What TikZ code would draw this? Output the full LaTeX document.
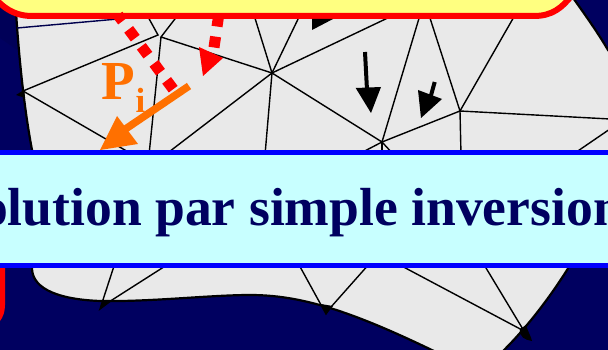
\documentclass[tikz,border=0pt]{standalone}
\usepackage{fontspec}
\setmainfont{Liberation Serif}
\definecolor{navybg}{HTML}{000060}
\definecolor{navydk}{HTML}{000058}
\definecolor{meshgrey}{HTML}{E9E9E9}
\definecolor{boxyellow}{HTML}{FFFF80}
\definecolor{boxcyan}{HTML}{C8FFFF}
\definecolor{orangeP}{HTML}{FF7000}
\tikzset{
  x=1pt,y=-1pt,
  mesh/.style={draw=black,line width=1.4pt},
  outline/.style={draw=black,line width=2.2pt},
  hd/.style={fill=#1,draw=none},
  reddash/.style={draw=red,line width=11pt,dash pattern=on 11pt off 10.2pt},
}
\begin{document}
\begin{tikzpicture}
\useasboundingbox (0,0) rectangle (608,350);
\clip (0,0) rectangle (608,350);
\fill[navybg] (0,0) rectangle (608,350);
\fill[navydk] (0,0) -- (20,0) -- (17,50) -- (0,38) -- cycle;
% blob
\path[fill=meshgrey,outline] (15,-5) .. controls (18,50) and (24,110) .. (33,155)
  -- (32,268) .. controls (32,285) and (50,299) .. (100,301)
  .. controls (150,302) and (210,295) .. (250,295)
  .. controls (300,295) and (350,310) .. (440,354)
  -- (500,354) .. controls (530,325) and (555,290) .. (572,262)
  -- (640,150) -- (640,80) -- (608,50) .. controls (598,33) and (586,16) .. (571,-5) -- cycle;
\coordinate (A) at (158,35);
\coordinate (B) at (161,37);
\coordinate (C) at (272,73);
\coordinate (D) at (23,91);
\coordinate (E) at (382,142);
\coordinate (F) at (460,111);
% mesh
\draw[mesh,draw=navybg!80!black] (17,28) -- (118,19);
\draw[mesh] (147,15) -- (A) -- (D) -- (130,153);
\draw[mesh] (178,15) -- (B) -- (C);
\draw[mesh] (B) -- (149,155);
\draw[mesh] (C) -- (165,155);
\draw[mesh] (C) -- (265,155);
\draw[mesh] (254,15) -- (C) -- (300,15);
\draw[mesh] (C) -- (394,15);
\draw[mesh] (C) -- (E) -- (420,15);
\draw[mesh] (E) -- (F) -- (429,15);
\draw[mesh] (F) -- (515,15);
\draw[mesh] (F) -- (610,119);
\draw[mesh] (F) -- (461,155);
\draw[mesh] (E) -- (357,155);
\draw[mesh] (E) -- (382,155);
\draw[mesh] (E) -- (394,155);
\draw[mesh] (610,129) -- (572,155);
\fill[black] (16,95) -- (24,90) -- (25,98) -- cycle;
% lower mesh
\coordinate (G) at (100,309);
\coordinate (H) at (326,314);
\coordinate (J) at (524,331);
\draw[mesh] (115,263) -- (G) -- (112,300) -- (170,263);
\fill[black] (G) -- (103,300) -- (112,300) -- cycle;
\draw[mesh] (298,263) -- (H) -- (331,307) -- (370,263);
\fill[black] (H) -- (321,304) -- (333,306) -- cycle;
\draw[mesh] (396,263) -- (J) -- (483,263);
\fill[black] (532,341) .. controls (525,340) and (519,337) .. (520,329) -- (526,325) .. controls (528,332) and (531,336) .. (532,341) -- cycle;
% yellow box
\path[fill=boxyellow,draw=red,line width=6pt] (-12,-12) .. controls (0,8) and (15,16) .. (32,16)
  -- (534,16) .. controls (552,16) and (562,8) .. (572,-5) -- (572,-12) -- cycle;
% red dotted arrows
\draw[reddash] (173.2,89.2) -- (118,15);
\draw[reddash] (214,47.5) -- (219,13);
\fill[hd=red] (203,76) -- (199,47) -- (223,58) -- cycle;
% black arrows
\fill[black] (312,30) -- (312,19) -- (333,19) -- cycle;
\draw[line width=4pt] (365,52) -- (367,90);
\fill[black] (371,113) -- (355.7,88) -- (381,87) -- cycle;
\draw[line width=4pt] (434.7,82) -- (430,99);
\fill[black] (421,118) -- (418,90) -- (442,99) -- cycle;
% orange
\draw[orangeP,line width=7.5pt] (189,86) -- (124,130);
\fill[orangeP] (100,150) -- (117,116) -- (138,144) -- cycle;
\node[anchor=base west,inner sep=0pt,text=orangeP,font={\fontsize{55}{55}\selectfont\bfseries}] (p) at (101.5,100) {P};
\node[anchor=base west,inner sep=0pt,text=orangeP,font={\fontsize{35}{35}\selectfont\bfseries}] (i) at (135.5,113) {i};
% cyan band
\path[fill=boxcyan,draw=blue,line width=5pt] (-10,152.5) rectangle (620,265.5);
\node[anchor=base,inner sep=0pt,text=navybg,font={\fontsize{53.6}{53.6}\selectfont\bfseries}] (t) at (302,225) {olution par simple inversion};
% red lower left
\fill[red] (-5,268) -- (5,268) -- (5,305) .. controls (5,312) and (3,317) .. (0,321) -- (-5,321) -- cycle;
\end{tikzpicture}
\end{document}
